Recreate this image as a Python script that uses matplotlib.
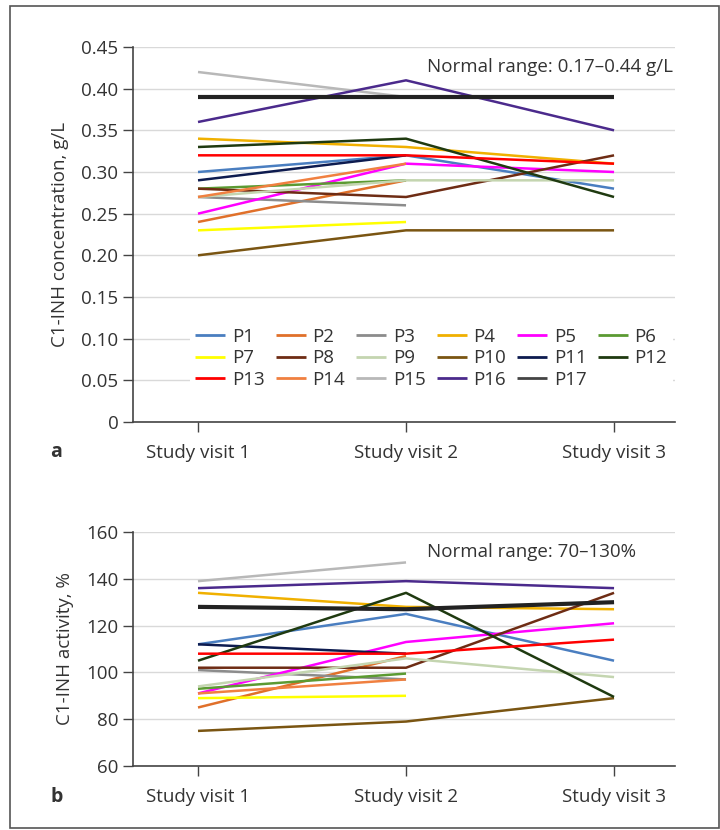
import numpy as np
import matplotlib.pyplot as plt
from matplotlib.patches import Rectangle

plt.rcParams['font.family'] = ['Open Sans', 'DejaVu Sans']

visits = ['Study visit 1', 'Study visit 2', 'Study visit 3']
patients = ['P%d' % i for i in range(1, 18)]
nan = np.nan

# C1-INH concentration, g/L (panel a)
conc = {
    'P1': [0.30, 0.32, 0.28],
    'P2': [0.24, 0.29, nan],
    'P3': [0.27, 0.26, nan],
    'P4': [0.34, 0.33, 0.31],
    'P5': [0.25, 0.31, 0.30],
    'P6': [0.28, 0.29, nan],
    'P7': [0.23, 0.24, nan],
    'P8': [0.28, 0.27, 0.32],
    'P9': [0.27, 0.29, 0.29],
    'P10': [0.20, 0.23, 0.23],
    'P11': [0.29, 0.32, nan],
    'P12': [0.33, 0.34, 0.27],
    'P13': [0.32, 0.32, 0.31],
    'P14': [0.27, 0.31, nan],
    'P15': [0.42, 0.39, nan],
    'P16': [0.36, 0.41, 0.35],
    'P17': [0.39, 0.39, 0.39],
}

# C1-INH activity, % (panel b)
activity = {
    'P1': [112, 125, 105],
    'P2': [85, 107, nan],
    'P3': [101, 97, nan],
    'P4': [134, 128, 127],
    'P5': [91, 113, 121],
    'P6': [93, 99.5, nan],
    'P7': [89, 90, nan],
    'P8': [102, 102, 134],
    'P9': [94, 106, 98],
    'P10': [75, 79, 89],
    'P11': [112, 108, nan],
    'P12': [105, 134, 89.5],
    'P13': [108, 108, 114],
    'P14': [91, 97, nan],
    'P15': [139, 147, nan],
    'P16': [136, 139, 136],
    'P17': [128, 127, 130],
}

colors = ['#4A7EC0', '#E0702A', '#8C8C8C', '#F0B000', '#FF00FF', '#5B9A32',
          '#FFFF00', '#6E2C14', '#C4D5B0', '#7A5512', '#0D1B4F', '#1F3A10',
          '#FF0000', '#F08040', '#B8B8B8', '#4B2A8C', '#222222']

fs = 13.5
text_col = '#333333'

fig = plt.figure(figsize=(7.2, 8.3), dpi=100)
fig.patches.append(Rectangle((10 / 720, 1 - 828 / 830), 709 / 720, 822 / 830,
                             transform=fig.transFigure, fill=False,
                             edgecolor='#555555', linewidth=1.2))

ax1 = fig.add_axes([133 / 720, 1 - 422 / 830, 542 / 720, 375 / 830])
ax2 = fig.add_axes([133 / 720, 1 - 766 / 830, 542 / 720, 234 / 830])

x = np.arange(len(visits))


def style_axis(ax, ylim, yticks, ylabels, ylabel):
    ax.set_xlim(-0.3125, 2.293)
    ax.set_ylim(*ylim)
    ax.set_yticks(yticks)
    ax.set_yticklabels(ylabels)
    ax.set_xticks(x)
    ax.set_xticklabels(visits)
    ax.grid(axis='y', color='#D9D9D9', linewidth=1)
    ax.set_axisbelow(True)
    for s in ['top', 'right']:
        ax.spines[s].set_visible(False)
    for s in ['left', 'bottom']:
        ax.spines[s].set_color('#444444')
        ax.spines[s].set_linewidth(1.2)
    ax.tick_params(axis='both', colors='#444444', labelcolor=text_col,
                   labelsize=fs, length=7, width=1)
    ax.tick_params(axis='x', pad=9)
    ax.set_ylabel(ylabel, fontsize=fs, color=text_col, labelpad=9)


for i, p in enumerate(patients):
    lw = 3 if p == 'P17' else 1.8
    ax1.plot(x, conc[p], color=colors[i], linewidth=lw, label=p,
             solid_capstyle='butt', zorder=3)
    ax2.plot(x, activity[p], color=colors[i], linewidth=lw, label=p,
             solid_capstyle='butt', zorder=3)

style_axis(ax1, (0, 0.45), np.arange(0, 0.46, 0.05),
           ['0'] + ['%.2f' % v for v in np.arange(0.05, 0.46, 0.05)],
           'C1-INH concentration, g/L')
style_axis(ax2, (60, 160), np.arange(60, 161, 20),
           [str(v) for v in range(60, 161, 20)], 'C1-INH activity, %')

# legend filled row by row (6 per row)
handles, labels = ax1.get_legend_handles_labels()
order = [r * 6 + c for c in range(6) for r in range(3) if r * 6 + c < len(labels)]
leg = ax1.legend([handles[k] for k in order], [labels[k] for k in order],
                 ncol=6, loc='center', bbox_to_anchor=(0.55, 0.17),
                 frameon=True, facecolor='white', edgecolor='none', framealpha=1,
                 fontsize=fs, handlelength=1.6, handletextpad=0.35,
                 columnspacing=0.6, labelspacing=0.18, borderpad=0.3)
for t in leg.get_texts():
    t.set_color(text_col)
for h in leg.get_lines():
    h.set_linewidth(2)
    if h.get_label() == 'P17':
        h.set_color('#444444')

ax1.text(1.1, 0.426, 'Normal range: 0.17\u20130.44 g/L', fontsize=fs,
         color=text_col, va='center', ha='left')
ax2.text(1.1, 151.5, 'Normal range: 70\u2013130%', fontsize=fs,
         color=text_col, va='center', ha='left')

fig.text(50 / 720, 1 - 452 / 830, 'a', fontsize=14, fontweight='bold',
         color=text_col, va='center')
fig.text(50 / 720, 1 - 797 / 830, 'b', fontsize=14, fontweight='bold',
         color=text_col, va='center')

fig.savefig('out.png', dpi=100)
